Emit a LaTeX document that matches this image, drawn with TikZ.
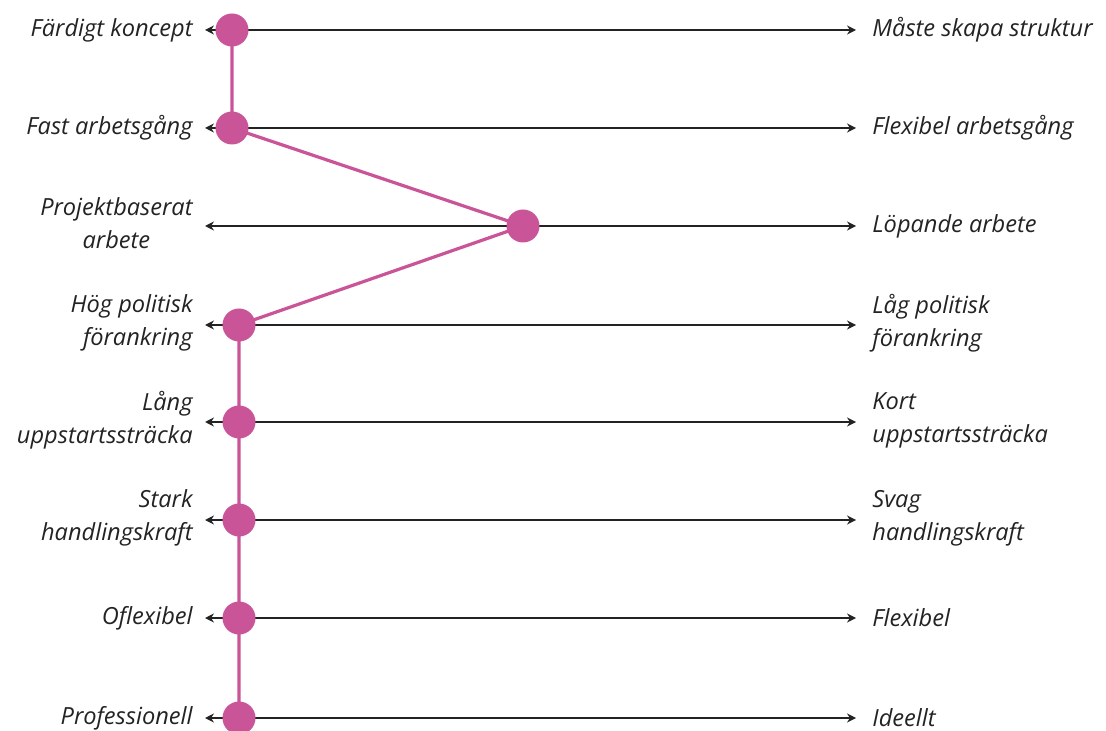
\documentclass[tikz,border=0pt]{standalone}
\usepackage{fontspec}
\setmainfont{Open Sans}
\usepackage{xcolor}
\usetikzlibrary{arrows.meta, positioning, calc}

\definecolor{dotpink}{RGB}{202,84,152}
\definecolor{axisgray}{RGB}{35,35,35}

\tikzset{
  axis/.style={draw=axisgray, line width=1.3pt, {Stealth[length=4.5pt,width=4.5pt]}-{Stealth[length=4.5pt,width=4.5pt]}},
  choice/.style={circle, fill=dotpink, inner sep=0pt, minimum size=16.5pt},
  path/.style={draw=dotpink, line width=1.6pt},
  lefttxt/.style={anchor=east, align=right, inner sep=0pt, font=\fontsize{11.8}{16.5}\selectfont\itshape, text=axisgray},
  righttxt/.style={anchor=west, align=left, inner sep=0pt, font=\fontsize{11.8}{16.5}\selectfont\itshape, text=axisgray}
}

\begin{document}
\begin{tikzpicture}[x=0.5pt, y=-0.5pt]
    \useasboundingbox (0, 0) rectangle (1106, 731);

    % ends of the scales
    \coordinate (l1) at (205, 30);   \coordinate (r1) at (856, 30);
    \coordinate (l2) at (205, 128);  \coordinate (r2) at (856, 128);
    \coordinate (l3) at (205, 226);  \coordinate (r3) at (856, 226);
    \coordinate (l4) at (205, 325);  \coordinate (r4) at (856, 325);
    \coordinate (l5) at (205, 422);  \coordinate (r5) at (856, 422);
    \coordinate (l6) at (205, 520);  \coordinate (r6) at (856, 520);
    \coordinate (l7) at (205, 618);  \coordinate (r7) at (856, 618);
    \coordinate (l8) at (205, 718);  \coordinate (r8) at (856, 718);

    \draw[axis] (l1) -- (r1);
    \draw[axis] (l2) -- (r2);
    \draw[axis] (l3) -- (r3);
    \draw[axis] (l4) -- (r4);
    \draw[axis] (l5) -- (r5);
    \draw[axis] (l6) -- (r6);
    \draw[axis] (l7) -- (r7);
    \draw[axis] (l8) -- (r8);

    % chosen positions
    \coordinate (d1) at (232, 30);
    \coordinate (d2) at (232, 128);
    \coordinate (d3) at (523, 226);
    \coordinate (d4) at (239, 325);
    \coordinate (d5) at (239, 422);
    \coordinate (d6) at (239, 520);
    \coordinate (d7) at (239, 618);
    \coordinate (d8) at (239, 718);

    \draw[path] (d1) -- (d2) -- (d3) -- (d4) -- (d5) -- (d6) -- (d7) -- (d8);

    \node[choice] (c1) at (d1) {};
    \node[choice] (c2) at (d2) {};
    \node[choice] (c3) at (d3) {};
    \node[choice] (c4) at (d4) {};
    \node[choice] (c5) at (d5) {};
    \node[choice] (c6) at (d6) {};
    \node[choice] (c7) at (d7) {};
    \node[choice] (c8) at (d8) {};

    % left labels
    \node[lefttxt] (a1) at (193, 30) {Färdigt koncept};
    \node[lefttxt] (a2) at (193, 128) {Fast arbetsgång};
    \node[lefttxt, align=center] (a3) at (193, 223) {Projektbaserat\\arbete};
    \node[lefttxt] (a4) at (193, 323) {Hög politisk\\förankring};
    \node[lefttxt] (a5) at (193, 420) {Lång\\uppstartssträcka};
    \node[lefttxt] (a6) at (193, 518) {Stark\\handlingskraft};
    \node[lefttxt] (a7) at (193, 618) {Oflexibel};
    \node[lefttxt] (a8) at (193, 718) {Professionell};

    % right labels
    \node[righttxt] (b1) at (872, 30) {Måste skapa struktur};
    \node[righttxt] (b2) at (872, 128) {Flexibel arbetsgång};
    \node[righttxt] (b3) at (872, 226) {Löpande arbete};
    \node[righttxt] (b4) at (872, 323) {Låg politisk\\förankring};
    \node[righttxt] (b5) at (872, 420) {Kort\\uppstartssträcka};
    \node[righttxt] (b6) at (872, 518) {Svag\\handlingskraft};
    \node[righttxt] (b7) at (872, 618) {Flexibel};
    \node[righttxt] (b8) at (872, 718) {Ideellt};

\end{tikzpicture}
\end{document}
